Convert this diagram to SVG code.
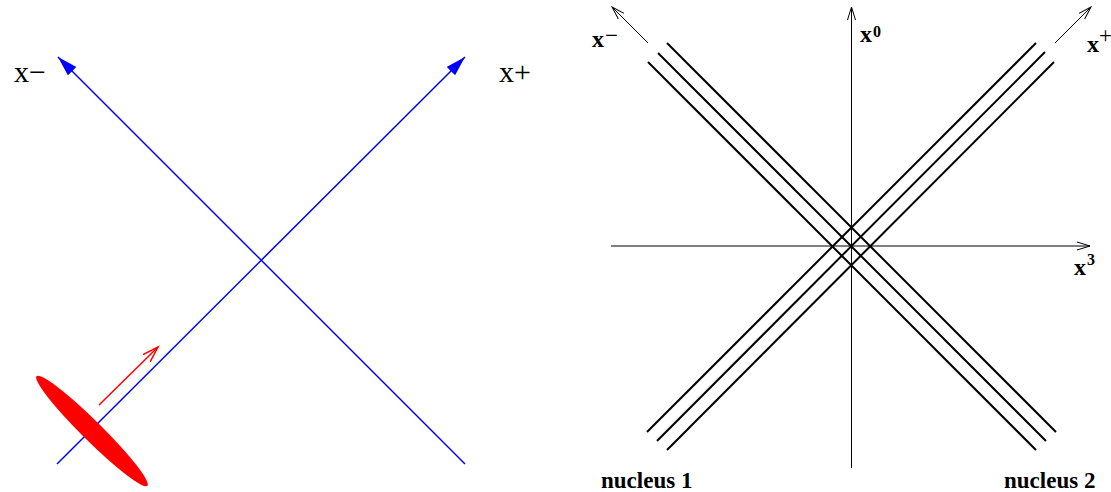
<svg xmlns="http://www.w3.org/2000/svg" width="1111" height="492" viewBox="0 0 1111 492">
<style>
.lbl{font-family:"Liberation Serif","Times New Roman",serif;fill:#000}
.reg{font-size:30px}
.bold{font-size:24px;font-weight:bold}
.sup{font-size:16px;font-weight:bold}
.supop{font-size:23px;font-weight:normal}
.nuc{font-size:23px;font-weight:bold}
.blue{stroke:#0000ff;stroke-width:1.5;fill:none}
.ax{stroke:#000;stroke-width:1;fill:none}
.beam{stroke:#000;stroke-width:2;fill:none}
</style>
<defs>
<marker id="bluehead" markerUnits="userSpaceOnUse" markerWidth="22" markerHeight="14" refX="20" refY="6" orient="auto">
<path d="M0,0 L20,6 L0,12 z" fill="#0000ff"/>
</marker>
<marker id="redhead" markerUnits="userSpaceOnUse" markerWidth="20" markerHeight="14" refX="16" refY="6" orient="auto">
<path d="M0,1 L16,6 L0,11" fill="none" stroke="#ff0000" stroke-width="1.5"/>
</marker>
<marker id="blackhead" markerUnits="userSpaceOnUse" markerWidth="16" markerHeight="12" refX="13" refY="5" orient="auto">
<path d="M0,1 L13,5 L0,9" fill="none" stroke="#000" stroke-width="1"/>
</marker>
</defs>
<rect width="1111" height="492" fill="#fff"/>
<g id="connectors">
<line class="blue" x1="57" y1="464" x2="465" y2="57" marker-end="url(#bluehead)"/>
<line class="blue" x1="465" y1="464" x2="58" y2="57" marker-end="url(#bluehead)"/>
<line x1="99" y1="405" x2="158" y2="347" stroke="#ff0000" stroke-width="1.5" marker-end="url(#redhead)"/>
<line class="ax" x1="851.5" y1="468" x2="851.5" y2="7" marker-end="url(#blackhead)"/>
<line class="ax" x1="611" y1="246" x2="1090" y2="246" marker-end="url(#blackhead)"/>
<line class="ax" x1="648" y1="43" x2="612" y2="7" marker-end="url(#blackhead)"/>
<line class="ax" x1="1055" y1="43" x2="1091" y2="7" marker-end="url(#blackhead)"/>
</g>
<g id="nucleus-left">
<ellipse cx="92" cy="431" rx="78" ry="10" transform="rotate(44.7 92 431)" fill="#ff0000"/>
</g>
<g id="beams">
<line class="beam" x1="648" y1="62" x2="1036" y2="450"/>
<line class="beam" x1="658" y1="53" x2="1046" y2="441"/>
<line class="beam" x1="667" y1="43" x2="1056" y2="432"/>
<line class="beam" x1="1036" y1="43" x2="647" y2="432"/>
<line class="beam" x1="1045" y1="52" x2="657" y2="441"/>
<line class="beam" x1="1054" y1="62" x2="667" y2="450"/>
</g>
<g id="label-xminus-left"><text class="lbl reg" x="14" y="82">x−</text></g>
<g id="label-xplus-left"><text class="lbl reg" x="499" y="82">x+</text></g>
<g id="label-xminus"><text class="lbl bold" x="592" y="47">x<tspan class="supop" x="605" y="43">−</tspan></text></g>
<g id="label-x0"><text class="lbl bold" x="860" y="42">x<tspan class="sup" x="873" y="37">0</tspan></text></g>
<g id="label-xplus"><text class="lbl bold" x="1087" y="52">x<tspan class="supop" x="1099" y="43">+</tspan></text></g>
<g id="label-x3"><text class="lbl bold" x="1074" y="275">x<tspan class="sup" x="1087" y="265">3</tspan></text></g>
<g id="label-nucleus1"><text class="lbl nuc" x="601" y="488">nucleus 1</text></g>
<g id="label-nucleus2"><text class="lbl nuc" x="1004" y="488">nucleus 2</text></g>
</svg>
